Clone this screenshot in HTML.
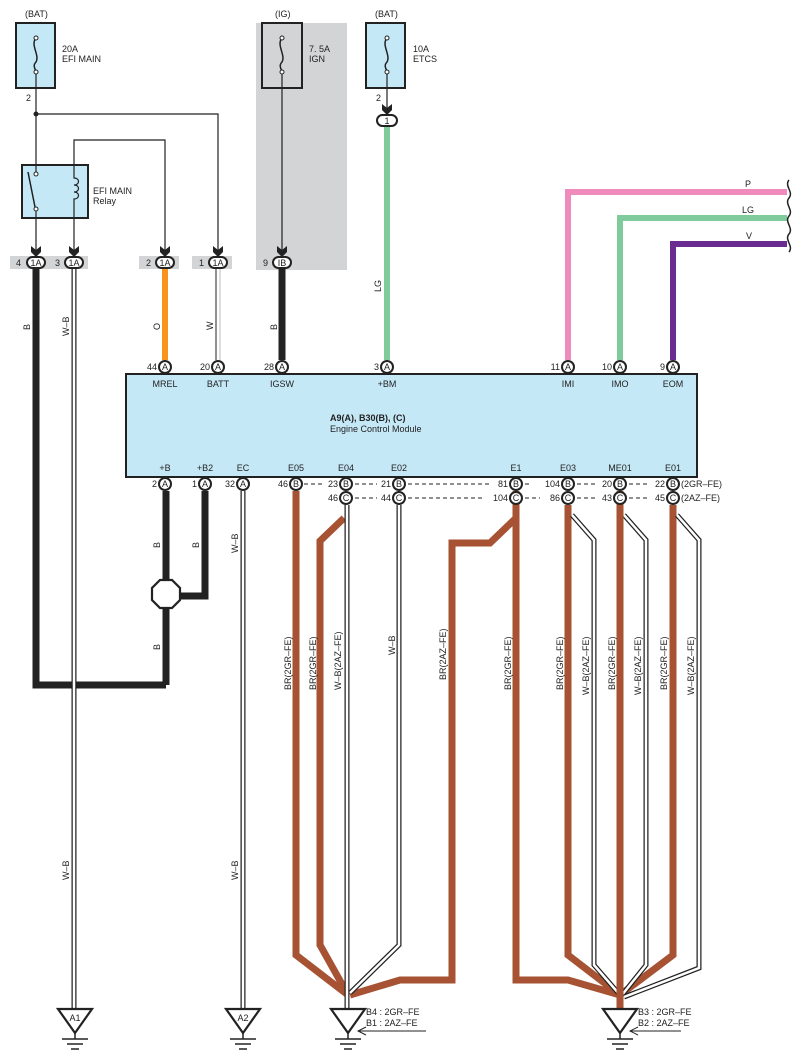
<!DOCTYPE html>
<html><head><meta charset="utf-8"><style>
html,body{margin:0;padding:0;background:#fff}
svg{display:block}
text{font-family:"Liberation Sans",sans-serif;font-size:9px;fill:#222}
</style></head><body>
<svg width="801" height="1063" viewBox="0 0 801 1063" xmlns="http://www.w3.org/2000/svg">
<defs>
<g id="gnd"><path d="M-17,0 L17,0 L0,24 Z" fill="#fff" stroke="#222" stroke-width="2.2"/><line x1="0" y1="24" x2="0" y2="30" stroke="#222" stroke-width="1.5"/><line x1="-13" y1="30" x2="13" y2="30" stroke="#222" stroke-width="1.5"/><line x1="-8" y1="35" x2="8" y2="35" stroke="#222" stroke-width="1.5"/><line x1="-4" y1="40" x2="4" y2="40" stroke="#222" stroke-width="1.5"/></g>
<g id="arr"><path d="M-5,-7 L0,-3 L5,-7 L5,-1 L0,4 L-5,-1 Z" fill="#222"/></g>
</defs>

<!-- gray IG zone -->
<rect x="256" y="23" width="91" height="247" fill="#d3d4d6"/>
<!-- connector strips -->
<rect x="10" y="256" width="78" height="13" fill="#d3d4d6"/>
<rect x="139" y="256" width="40" height="13" fill="#d3d4d6"/>
<rect x="192" y="256" width="40" height="13" fill="#d3d4d6"/>

<!-- fuses -->
<text x="25" y="17">(BAT)</text>
<rect x="16" y="23" width="39" height="65" fill="#c5e8f7" stroke="#222" stroke-width="2"/>
<text x="62" y="52">20A</text><text x="62" y="62">EFI MAIN</text>
<text x="275" y="17">(IG)</text>
<rect x="262" y="23" width="40" height="65" fill="#d3d4d6" stroke="#222" stroke-width="2"/>
<text x="309" y="52">7. 5A</text><text x="309" y="62">IGN</text>
<text x="375" y="17">(BAT)</text>
<rect x="366" y="23" width="39" height="65" fill="#c5e8f7" stroke="#222" stroke-width="2"/>
<text x="413" y="52">10A</text><text x="413" y="62">ETCS</text>
<g fill="none" stroke="#222" stroke-width="1.5">
<path d="M36,38 C30,45 40,55 36,62 C32,66 36,70 36,72"/>
<path d="M282,38 C276,45 286,55 282,62 C278,66 282,70 282,72"/>
<path d="M387,38 C381,45 391,55 387,62 C383,66 387,70 387,72"/>
</g>
<g fill="#fff" stroke="#222" stroke-width="1"><circle cx="36" cy="38" r="2"/><circle cx="36" cy="72" r="2"/><circle cx="282" cy="38" r="2"/><circle cx="282" cy="72" r="2"/><circle cx="387" cy="38" r="2"/><circle cx="387" cy="72" r="2"/></g>
<text x="26" y="101">2</text><text x="376" y="101">2</text>

<!-- thin wires top -->
<g fill="none" stroke="#222" stroke-width="1.2">
<path d="M36,74 V256"/><path d="M36,114 H218 V256"/>
<path d="M74,256 V140 H165 V256"/>
<path d="M282,74 V256"/><path d="M387,74 V112"/>
</g>
<circle cx="36" cy="114" r="2.5" fill="#222"/>
<!-- relay -->
<rect x="22" y="165" width="66" height="53" fill="#c5e8f7" stroke="#222" stroke-width="2"/>
<line x1="36" y1="165" x2="36" y2="174" stroke="#222" stroke-width="1.2"/>
<line x1="36" y1="209" x2="36" y2="218" stroke="#222" stroke-width="1.2"/>
<line x1="28" y1="172" x2="35" y2="207" stroke="#222" stroke-width="1.5"/>
<g fill="#fff" stroke="#222" stroke-width="1"><circle cx="36" cy="174" r="2"/><circle cx="36" cy="209" r="2"/></g>
<path d="M74,165 V178 C80,178 80,185 74,185 C80,185 80,192 74,192 C80,192 80,199 74,199 V218" fill="none" stroke="#222" stroke-width="1.2"/>
<text x="93" y="194">EFI MAIN</text><text x="93" y="204">Relay</text>

<!-- arrows to connectors -->
<use href="#arr" x="36" y="253"/><use href="#arr" x="74" y="253"/><use href="#arr" x="165" y="253"/><use href="#arr" x="218" y="253"/><use href="#arr" x="282" y="253"/><use href="#arr" x="387" y="111"/>
<!-- connector ovals -->
<g fill="#fff" stroke="#222" stroke-width="2">
<rect x="27" y="257" width="18" height="11" rx="5.5"/><rect x="65" y="257" width="18" height="11" rx="5.5"/>
<rect x="156" y="257" width="18" height="11" rx="5.5"/><rect x="209" y="257" width="18" height="11" rx="5.5"/>
<rect x="273" y="257" width="18" height="11" rx="5.5"/><rect x="377" y="115" width="20" height="11" rx="5.5"/>
</g>
<g font-size="8" text-anchor="middle"><text x="36" y="266">1A</text><text x="74" y="266">1A</text><text x="165" y="266">1A</text><text x="218" y="266">1A</text><text x="282" y="266">IB</text><text x="387" y="124">1</text></g>
<text x="16" y="266">4</text><text x="55" y="266">3</text><text x="146" y="266">2</text><text x="199" y="266">1</text><text x="263" y="266">9</text>

<!-- colored wires top -->
<line x1="165" y1="269" x2="165" y2="360" stroke="#f7941d" stroke-width="6"/>
<line x1="218" y1="269" x2="218" y2="360" stroke="#222" stroke-width="5"/><line x1="218" y1="269" x2="218" y2="360" stroke="#fff" stroke-width="3"/><line x1="220" y1="269" x2="220" y2="360" stroke="#bbb" stroke-width="1"/>
<line x1="282" y1="269" x2="282" y2="360" stroke="#222" stroke-width="7"/>
<line x1="387" y1="127" x2="387" y2="360" stroke="#7fcb9b" stroke-width="6"/>
<path d="M568,360 V192 H787" fill="none" stroke="#ef8bbd" stroke-width="6"/>
<path d="M620,360 V218 H787" fill="none" stroke="#7fcb9b" stroke-width="6"/>
<path d="M673,360 V244 H787" fill="none" stroke="#6b2c91" stroke-width="6"/>
<g fill="none" stroke="#222" stroke-width="1.5">
<path d="M789,180 C784,186 794,192 789,198 C784,204 794,210 789,216 C784,222 794,228 789,234 C784,240 794,246 789,252"/>
</g>
<text x="745" y="187">P</text><text x="742" y="213">LG</text><text x="746" y="239">V</text>
<g font-size="8.5">
<text transform="translate(30,330) rotate(-90)">B</text>
<text transform="translate(69,336) rotate(-90)">W–B</text>
<text transform="translate(160,330) rotate(-90)">O</text>
<text transform="translate(213,330) rotate(-90)">W</text>
<text transform="translate(277,330) rotate(-90)">B</text>
<text transform="translate(381,292) rotate(-90)">LG</text>
</g>

<!-- left wires down -->
<path d="M36,269 V685 H166" fill="none" stroke="#222" stroke-width="7"/>
<path d="M166,491 V685" fill="none" stroke="#222" stroke-width="7"/>
<path d="M205,491 V596 H170" fill="none" stroke="#222" stroke-width="7"/>
<polygon points="160,580 172,580 180,588 180,600 172,608 160,608 152,600 152,588" fill="#fff" stroke="#222" stroke-width="2.2"/>
<g fill="none">
<path d="M74,269 V1010" stroke="#222" stroke-width="5"/><path d="M74,269 V1010" stroke="#fff" stroke-width="2.5"/>
<path d="M243,491 V1010" stroke="#222" stroke-width="5"/><path d="M243,491 V1010" stroke="#fff" stroke-width="2.5"/>
</g>
<g font-size="8.5">
<text transform="translate(160,548) rotate(-90)">B</text>
<text transform="translate(199,548) rotate(-90)">B</text>
<text transform="translate(160,650) rotate(-90)">B</text>
<text transform="translate(238,553) rotate(-90)">W–B</text>
<text transform="translate(69,880) rotate(-90)">W–B</text>
<text transform="translate(238,880) rotate(-90)">W–B</text>
</g>

<!-- brown & W-B bottom group left -->
<g fill="none" stroke-linejoin="miter">
<path d="M296,491 V955 L348,995" stroke="#a65233" stroke-width="7"/>
<path d="M344,518 L320,541 V945 L348,995" stroke="#a65233" stroke-width="7"/>
<path d="M516,518 L490,543 H452 V980 H400 L350,995" stroke="#a65233" stroke-width="7"/>
<path d="M347,505 V1008" stroke="#222" stroke-width="5"/><path d="M347,505 V1008" stroke="#fff" stroke-width="2.5"/>
<path d="M399,505 V945 L350,993" stroke="#222" stroke-width="5"/><path d="M399,505 V945 L350,993" stroke="#fff" stroke-width="2.5"/>
<!-- right group -->
<path d="M516,491 V980 H568 L620,995" stroke="#a65233" stroke-width="7"/>
<path d="M568,505 V955 L620,995" stroke="#a65233" stroke-width="7"/>
<path d="M673,505 V955 L620,995" stroke="#a65233" stroke-width="7"/>
<path d="M572,515 L594,540 V965 L620,995" stroke="#222" stroke-width="5"/><path d="M572,515 L594,540 V965 L620,995" stroke="#fff" stroke-width="2.5"/>
<path d="M624,515 L646,540 V965 L622,995" stroke="#222" stroke-width="5"/><path d="M624,515 L646,540 V965 L622,995" stroke="#fff" stroke-width="2.5"/>
<path d="M677,515 L699,540 V968 L624,997" stroke="#222" stroke-width="5"/><path d="M677,515 L699,540 V968 L624,997" stroke="#fff" stroke-width="2.5"/>
<path d="M620,491 V1010" stroke="#a65233" stroke-width="7"/>
</g>
<g font-size="8.5">
<text transform="translate(291,690) rotate(-90)">BR(2GR–FE)</text>
<text transform="translate(316,690) rotate(-90)">BR(2GR–FE)</text>
<text transform="translate(341,690) rotate(-90)">W–B(2AZ–FE)</text>
<text transform="translate(395,655) rotate(-90)">W–B</text>
<text transform="translate(446,680) rotate(-90)">BR(2AZ–FE)</text>
<text transform="translate(511,690) rotate(-90)">BR(2GR–FE)</text>
<text transform="translate(563,690) rotate(-90)">BR(2GR–FE)</text>
<text transform="translate(589,695) rotate(-90)">W–B(2AZ–FE)</text>
<text transform="translate(615,690) rotate(-90)">BR(2GR–FE)</text>
<text transform="translate(641,695) rotate(-90)">W–B(2AZ–FE)</text>
<text transform="translate(667,690) rotate(-90)">BR(2GR–FE)</text>
<text transform="translate(694,695) rotate(-90)">W–B(2AZ–FE)</text>
</g>

<!-- ECM -->
<rect x="126" y="374" width="571" height="103" fill="#c5e8f7" stroke="#222" stroke-width="2"/>
<text x="330" y="421" font-weight="bold">A9(A), B30(B), (C)</text>
<text x="330" y="432">Engine Control Module</text>
<g text-anchor="middle">
<text x="165" y="387">MREL</text><text x="218" y="387">BATT</text><text x="282" y="387">IGSW</text><text x="387" y="387">+BM</text><text x="568" y="387">IMI</text><text x="620" y="387">IMO</text><text x="673" y="387">EOM</text>
<text x="165" y="471">+B</text><text x="205" y="471">+B2</text><text x="243" y="471">EC</text><text x="296" y="471">E05</text><text x="346" y="471">E04</text><text x="399" y="471">E02</text><text x="516" y="471">E1</text><text x="568" y="471">E03</text><text x="620" y="471">ME01</text><text x="673" y="471">E01</text>
</g>
<!-- pins -->
<g fill="#fff" stroke="#222" stroke-width="2">
<circle cx="165" cy="367" r="6"/><circle cx="218" cy="367" r="6"/><circle cx="282" cy="367" r="6"/><circle cx="387" cy="367" r="6"/><circle cx="568" cy="367" r="6"/><circle cx="620" cy="367" r="6"/><circle cx="673" cy="367" r="6"/>
<circle cx="165" cy="484" r="6"/><circle cx="205" cy="484" r="6"/><circle cx="243" cy="484" r="6"/><circle cx="296" cy="484" r="6"/><circle cx="346" cy="484" r="6"/><circle cx="399" cy="484" r="6"/><circle cx="516" cy="484" r="6"/><circle cx="568" cy="484" r="6"/><circle cx="620" cy="484" r="6"/><circle cx="673" cy="484" r="6"/>
<circle cx="346" cy="498" r="6"/><circle cx="399" cy="498" r="6"/><circle cx="516" cy="498" r="6"/><circle cx="568" cy="498" r="6"/><circle cx="620" cy="498" r="6"/><circle cx="673" cy="498" r="6"/>
</g>
<g text-anchor="middle" font-size="8">
<text x="165" y="370">A</text><text x="218" y="370">A</text><text x="282" y="370">A</text><text x="387" y="370">A</text><text x="568" y="370">A</text><text x="620" y="370">A</text><text x="673" y="370">A</text>
<text x="165" y="487">A</text><text x="205" y="487">A</text><text x="243" y="487">A</text><text x="296" y="487">B</text><text x="346" y="487">B</text><text x="399" y="487">B</text><text x="516" y="487">B</text><text x="568" y="487">B</text><text x="620" y="487">B</text><text x="673" y="487">B</text>
<text x="346" y="501">C</text><text x="399" y="501">C</text><text x="516" y="501">C</text><text x="568" y="501">C</text><text x="620" y="501">C</text><text x="673" y="501">C</text>
</g>
<g text-anchor="end" font-size="8.5">
<text x="157" y="370">44</text><text x="210" y="370">20</text><text x="274" y="370">28</text><text x="379" y="370">3</text><text x="560" y="370">11</text><text x="612" y="370">10</text><text x="665" y="370">9</text>
<text x="157" y="487">2</text><text x="197" y="487">1</text><text x="235" y="487">32</text><text x="288" y="487">46</text><text x="338" y="487">23</text><text x="391" y="487">21</text><text x="508" y="487">81</text><text x="560" y="487">104</text><text x="612" y="487">20</text><text x="665" y="487">22</text>
<text x="338" y="501">46</text><text x="391" y="501">44</text><text x="508" y="501">104</text><text x="560" y="501">86</text><text x="612" y="501">43</text><text x="665" y="501">45</text>
</g>
<g stroke="#222" stroke-width="1" stroke-dasharray="4,3">
<line x1="304" y1="484" x2="324" y2="484"/><line x1="355" y1="484" x2="377" y2="484"/><line x1="408" y1="484" x2="492" y2="484"/><line x1="525" y1="484" x2="531" y2="484"/><line x1="577" y1="484" x2="596" y2="484"/><line x1="629" y1="484" x2="648" y2="484"/>
<line x1="355" y1="498" x2="377" y2="498"/><line x1="408" y1="498" x2="484" y2="498"/><line x1="525" y1="498" x2="540" y2="498"/><line x1="577" y1="498" x2="596" y2="498"/><line x1="629" y1="498" x2="648" y2="498"/>
</g>
<text x="681" y="487" font-size="8.5">(2GR–FE)</text><text x="681" y="501" font-size="8.5">(2AZ–FE)</text>

<!-- grounds -->
<use href="#gnd" x="75" y="1009"/><use href="#gnd" x="243" y="1009"/><use href="#gnd" x="348" y="1009"/><use href="#gnd" x="620" y="1009"/>
<g text-anchor="middle" font-size="8.5"><text x="75" y="1021">A1</text><text x="243" y="1021">A2</text></g>
<g font-size="8.5">
<text x="366" y="1015">B4 : 2GR–FE</text><text x="366" y="1026">B1 : 2AZ–FE</text>
<text x="638" y="1015">B3 : 2GR–FE</text><text x="638" y="1026">B2 : 2AZ–FE</text>
</g>
<g fill="none" stroke="#222" stroke-width="1">
<path d="M426,1031 H358 M366,1027 L358,1031 L366,1035"/>
<path d="M681,1031 H630 M638,1027 L630,1031 L638,1035"/>
</g>
</svg>
</body></html>
